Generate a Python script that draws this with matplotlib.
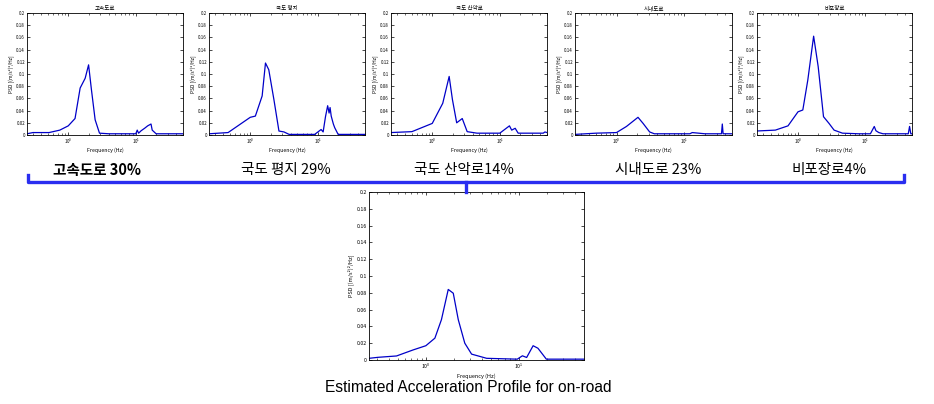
import matplotlib
matplotlib.use("Agg")
import matplotlib.pyplot as plt
from matplotlib.lines import Line2D
import numpy as np

plt.rcParams['font.family'] = ['Noto Sans CJK KR', 'DejaVu Sans']

# 도로별 PSD (주파수 Hz, PSD)
f_highway = [0.245, 0.3, 0.39, 0.52, 0.75, 1.0, 1.26, 1.5, 1.78, 2.0, 2.2, 2.5, 2.9, 4, 6, 8, 10, 10.5, 11, 12, 13.5, 15, 16.8, 17.5, 20, 30, 50]
p_highway = [0.002, 0.004, 0.004, 0.004, 0.008, 0.015, 0.027, 0.077, 0.093, 0.115, 0.075, 0.025, 0.003, 0.002, 0.002, 0.002, 0.002, 0.008, 0.003, 0.007, 0.011, 0.015, 0.018, 0.008, 0.002, 0.002, 0.002]

f_national = [0.245, 0.47, 1.0, 1.19, 1.5, 1.68, 1.88, 2.24, 2.66, 3.16, 3.76, 6, 9, 11.2, 12, 13, 14, 14.7, 15.2, 15.8, 17, 17.8, 20, 30, 50]
p_national = [0.002, 0.004, 0.029, 0.031, 0.064, 0.118, 0.107, 0.058, 0.0065, 0.005, 0.001, 0.001, 0.001, 0.009, 0.005, 0.03, 0.048, 0.036, 0.045, 0.031, 0.018, 0.012, 0.001, 0.001, 0.001]

f_mountain = [0.245, 0.5, 1.0, 1.43, 1.78, 1.99, 2.3, 2.78, 3.29, 4.6, 8, 10, 13.9, 15, 16.9, 18.7, 30, 44, 46.6, 50]
p_mountain = [0.004, 0.0055, 0.019, 0.052, 0.096, 0.058, 0.02, 0.027, 0.0055, 0.003, 0.003, 0.003, 0.015, 0.008, 0.011, 0.003, 0.003, 0.003, 0.005, 0.004]

f_city = [0.245, 0.5, 1.0, 1.4, 2.07, 2.46, 3.07, 3.6, 8, 12, 13, 20, 35, 36, 37, 50]
p_city = [0.001, 0.003, 0.004, 0.014, 0.029, 0.019, 0.005, 0.002, 0.002, 0.002, 0.004, 0.002, 0.002, 0.018, 0.002, 0.002]

f_unpaved = [0.245, 0.46, 0.71, 1.0, 1.18, 1.4, 1.71, 2.0, 2.4, 2.9, 3.45, 4.6, 8, 12, 13.7, 14.5, 16, 18.5, 30, 44, 46, 48, 50]
p_unpaved = [0.0066, 0.008, 0.015, 0.038, 0.041, 0.09, 0.162, 0.112, 0.03, 0.019, 0.008, 0.003, 0.002, 0.002, 0.014, 0.007, 0.004, 0.002, 0.002, 0.002, 0.014, 0.002, 0.002]

f_total = [0.245, 0.307, 0.484, 0.73, 1.0, 1.25, 1.47, 1.74, 1.97, 2.23, 2.62, 3.1, 4.5, 9.6, 10.9, 12.1, 14.2, 16, 19.7, 30, 50]
p_total = [0.002, 0.0032, 0.0048, 0.012, 0.017, 0.026, 0.048, 0.084, 0.0795, 0.048, 0.02, 0.007, 0.002, 0.001, 0.005, 0.003, 0.017, 0.014, 0.001, 0.001, 0.001]

titles = ['고속도로', '국도 평지', '국도 산악로', '시내도로', '비포장로']
labels = ['고속도로 30%', '국도 평지 29%', '국도 산악로14%', '시내도로 23%', '비포장로4%']
series = [(f_highway, p_highway), (f_national, p_national), (f_mountain, p_mountain),
          (f_city, p_city), (f_unpaved, p_unpaved)]

W, H = 934, 404
fig = plt.figure(figsize=(W / 100, H / 100), dpi=100)

def px_axes(x0, x1, y0, y1):
    return fig.add_axes([x0 / W, 1 - y1 / H, (x1 - x0) / W, (y1 - y0) / H])

def style(ax, fs):
    ax.set_xscale('log')
    ax.set_xlim(0.245, 50)
    ax.set_ylim(0, 0.2)
    ax.set_yticks(np.arange(0, 0.201, 0.02))
    ax.set_yticklabels(['0'] + ['%g' % v for v in np.arange(0.02, 0.201, 0.02)])
    ax.tick_params(which='both', direction='in', top=True, right=True, labelsize=fs, pad=1.5)
    ax.tick_params(which='major', length=2.5, width=0.5)
    ax.tick_params(which='minor', length=1.5, width=0.4)
    for s in ax.spines.values():
        s.set_linewidth(0.6)

boxes = [(27, 183), (209, 365), (391, 547), (575, 732), (757, 912)]
for (x0, x1), (f, p), t in zip(boxes, series, titles):
    ax = px_axes(x0, x1, 13, 135)
    ax.plot(f, p, color='#0000c8', lw=0.9)
    style(ax, 3.2)
    ax.set_title(t, fontsize=4, pad=2)
    ax.set_xlabel('Frequency (Hz)', fontsize=3.8, labelpad=1)
    ax.set_ylabel('PSD [(m/s²)²/Hz]', fontsize=3.5, labelpad=1)

ax = px_axes(369, 584, 192, 360)
ax.plot(f_total, p_total, color='#0000c8', lw=0.9)
style(ax, 3.8)
ax.set_xlabel('Frequency (Hz)', fontsize=4, labelpad=1.5)
ax.set_ylabel('PSD [(m/s²)²/Hz]', fontsize=4, labelpad=1.5)

centers = [97, 286, 464, 658, 829]
for i, (c, lab) in enumerate(zip(centers, labels)):
    fig.text(c / W, 1 - 170 / H, lab, ha='center', va='center', fontsize=10.5,
             fontweight='bold' if i == 0 else 'normal')

blue = '#2a2ef0'
ys = 1 - 182 / H
fig.add_artist(Line2D([28 / W, 28 / W, 904 / W, 904 / W],
                      [1 - 175 / H, ys, ys, 1 - 175 / H], color=blue, lw=2.4,
                      solid_joinstyle='round'))
fig.add_artist(Line2D([466 / W, 466 / W], [ys, 1 - 192 / H], color=blue, lw=2.4))

fig.text(468 / W, 1 - 388 / H, 'Estimated Acceleration Profile for on-road',
         ha='center', va='center', fontsize=11.2, family=['Liberation Sans', 'DejaVu Sans'])

fig.savefig('out.png', dpi=100)
